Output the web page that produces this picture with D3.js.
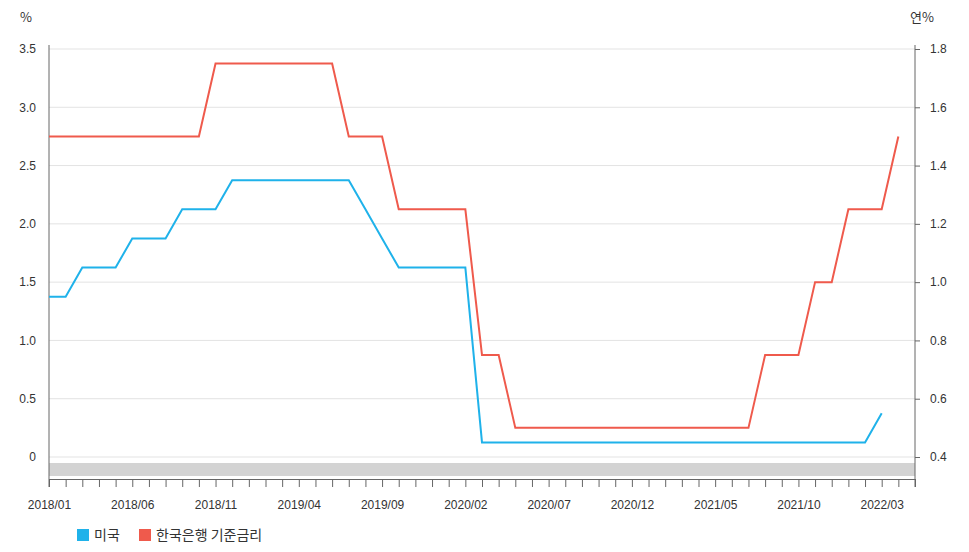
<!DOCTYPE html><html><head><meta charset="utf-8"><script src="https://cdn.jsdelivr.net/npm/d3@7"></script>
<style>body{margin:0;background:#fff;font-family:"Noto Sans CJK KR","Noto Sans",Arial,sans-serif}</style></head><body><svg id="c" width="969" height="552"></svg><script>
const months=[];for(let y=2018;y<=2022;y++)for(let m=1;m<=12;m++){if(y===2022&&m>5)break;months.push(y+"/"+String(m).padStart(2,"0"));}
const usRate=[1.375,1.375,1.625,1.625,1.625,1.875,1.875,1.875,2.125,2.125,2.125,2.375,
2.375,2.375,2.375,2.375,2.375,2.375,2.375,2.125,1.875,1.625,1.625,1.625,
1.625,1.625,0.125,0.125,0.125,0.125,0.125,0.125,0.125,0.125,0.125,0.125,
0.125,0.125,0.125,0.125,0.125,0.125,0.125,0.125,0.125,0.125,0.125,0.125,
0.125,0.125,0.375];
const krRate=[1.5,1.5,1.5,1.5,1.5,1.5,1.5,1.5,1.5,1.5,1.75,1.75,
1.75,1.75,1.75,1.75,1.75,1.75,1.5,1.5,1.5,1.25,1.25,1.25,
1.25,1.25,0.75,0.75,0.5,0.5,0.5,0.5,0.5,0.5,0.5,0.5,
0.5,0.5,0.5,0.5,0.5,0.5,0.5,0.75,0.75,0.75,1.0,1.0,
1.25,1.25,1.25,1.5];
const leftTicks=[0,0.5,1.0,1.5,2.0,2.5,3.0,3.5];
const rightTicks=[0.4,0.6,0.8,1.0,1.2,1.4,1.6,1.8];
const seriesNames=["미국","한국은행 기준금리"];
const colors=["#1fb2ea","#ef5a4c"];
const svg=d3.select("#c");
const L=49,R=915,T=49,B=457;
const x=d3.scalePoint().domain(months).range([L,R]);
const yl=d3.scaleLinear().domain([0,3.5]).range([B,T]);
const yr=d3.scaleLinear().domain([0.4,1.8]).range([B,T]);
// grid
svg.append("g").selectAll("line").data(leftTicks).join("line").attr("x1",L).attr("x2",R)
 .attr("y1",d=>yl(d)).attr("y2",d=>yl(d)).attr("stroke","#e3e3e3");
svg.append("rect").attr("x",L).attr("y",463).attr("width",R-L).attr("height",13).attr("fill","#d3d3d3");
const fmt=d=>d===0?"0":d.toFixed(1);
const ga=svg.append("g").attr("transform",`translate(${L},0)`).call(d3.axisLeft(yl).tickValues(leftTicks).tickFormat(fmt).tickSize(0).tickPadding(13));
ga.select(".domain").remove();
svg.append("line").attr("x1",L).attr("x2",L).attr("y1",T-4).attr("y2",487).attr("stroke","#666");
const gr=svg.append("g").attr("transform",`translate(${R},0)`).call(d3.axisRight(yr).tickValues(rightTicks).tickFormat(d=>d.toFixed(1)).tickSize(5).tickPadding(10));
gr.select(".domain").attr("d",`M0,${T-4}V487`).attr("stroke","#666");
gr.selectAll(".tick line").attr("stroke","#666");
const gx=svg.append("g").attr("transform","translate(0,479)").call(d3.axisBottom(x).tickSize(8).tickPadding(13).tickFormat((d,i)=>i%5===0?d:""));
gx.select(".domain").attr("stroke","#666");gx.selectAll(".tick line").attr("stroke","#666");
svg.selectAll(".tick text").attr("fill","#333").style("font-size","12px").style("font-family","Arial,'Liberation Sans',sans-serif");
svg.append("text").attr("x",20).attr("y",22).text("%").style("font-size","13px").attr("fill","#333");
svg.append("text").attr("x",910).attr("y",22).text("연%").style("font-size","13px").attr("fill","#333");
const l1=d3.line().x((d,i)=>x(months[i])).y(d=>yl(d));
const l2=d3.line().x((d,i)=>x(months[i])).y(d=>yr(d));
svg.append("path").attr("d",l1(usRate)).attr("fill","none").attr("stroke",colors[0]).attr("stroke-width",2);
svg.append("path").attr("d",l2(krRate)).attr("fill","none").attr("stroke",colors[1]).attr("stroke-width",2);
const lg=svg.append("g");
[[77,0],[139,1]].forEach(([lx,i])=>{lg.append("rect").attr("x",lx).attr("y",529).attr("width",12).attr("height",12).attr("fill",colors[i]);
lg.append("text").attr("x",lx+17).attr("y",540).text(seriesNames[i]).style("font-size","14px").attr("fill","#333");});
</script></body></html>
